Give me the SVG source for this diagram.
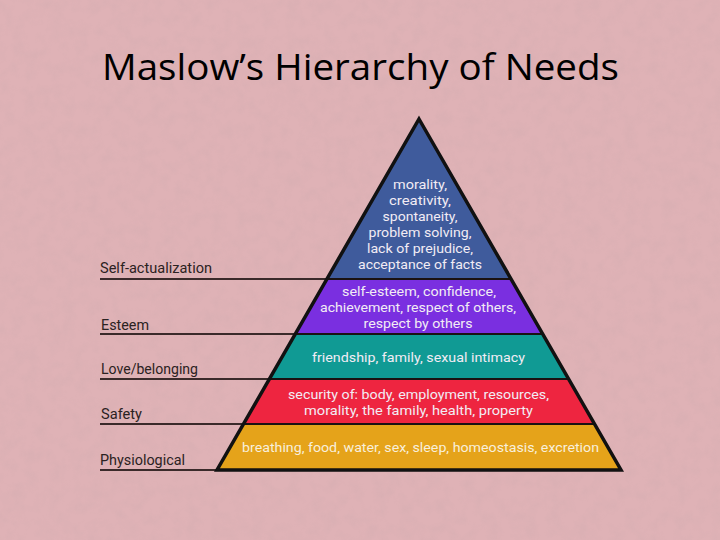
<svg xmlns="http://www.w3.org/2000/svg" width="720" height="540" viewBox="0 0 720 540">
<defs>
<style>
.title{font-family:"Open Sans","Liberation Sans",sans-serif;font-size:37px;fill:#000;}
.lbl{font-family:Roboto,"Liberation Sans",sans-serif;font-size:15.5px;fill:#2b2222;}
.in{font-family:Roboto,"Liberation Sans",sans-serif;font-size:13.5px;fill:#f2ecf4;text-anchor:middle;font-weight:400;}
.sep{stroke:#1a1212;stroke-width:2;fill:none;}
.ln{stroke:#3a2a2a;stroke-width:1.8;fill:none;}
</style>
<filter id="tex" x="0" y="0" width="100%" height="100%">
<feTurbulence type="fractalNoise" baseFrequency="0.08" numOctaves="3" seed="7"/>
<feColorMatrix type="matrix" values="0 0 0 0 0.55  0 0 0 0 0.38  0 0 0 0 0.40  0 0 0 -0.9 0.55"/>
</filter>
</defs>
<rect width="720" height="540" fill="#dfb2b6"/>
<rect width="720" height="540" filter="url(#tex)" opacity="0.4"/>
<text class="title" x="102" y="80" textLength="517" lengthAdjust="spacingAndGlyphs">Maslow’s Hierarchy of Needs</text>

<g id="connectors">
<line class="ln" x1="100" y1="279" x2="327" y2="279"/>
<line class="ln" x1="100" y1="334" x2="295" y2="334"/>
<line class="ln" x1="100" y1="379" x2="269" y2="379"/>
<line class="ln" x1="100" y1="424" x2="243" y2="424"/>
<line class="ln" x1="100" y1="470" x2="217" y2="470"/>
</g>

<g id="label-self-actualization"><text class="lbl" x="100" y="273" textLength="112" lengthAdjust="spacingAndGlyphs">Self-actualization</text></g>
<g id="label-esteem"><text class="lbl" x="101" y="330" textLength="48" lengthAdjust="spacingAndGlyphs">Esteem</text></g>
<g id="label-love"><text class="lbl" x="101" y="374" textLength="97" lengthAdjust="spacingAndGlyphs">Love/belonging</text></g>
<g id="label-safety"><text class="lbl" x="101" y="419" textLength="41" lengthAdjust="spacingAndGlyphs">Safety</text></g>
<g id="label-physiological"><text class="lbl" x="100" y="465" textLength="85" lengthAdjust="spacingAndGlyphs">Physiological</text></g>

<g id="band-self-actualization">
<polygon points="419,119 511.1,279 326.9,279" fill="#3f5b9c"/>
<text class="in" x="420" y="189" textLength="54" lengthAdjust="spacingAndGlyphs">morality,</text>
<text class="in" x="420" y="205" textLength="62" lengthAdjust="spacingAndGlyphs">creativity,</text>
<text class="in" x="420" y="221" textLength="75" lengthAdjust="spacingAndGlyphs">spontaneity,</text>
<text class="in" x="420" y="237" textLength="103" lengthAdjust="spacingAndGlyphs">problem solving,</text>
<text class="in" x="420" y="253" textLength="106" lengthAdjust="spacingAndGlyphs">lack of prejudice,</text>
<text class="in" x="420" y="269" textLength="124" lengthAdjust="spacingAndGlyphs">acceptance of facts</text>
</g>
<g id="band-esteem">
<polygon points="326.9,279 511.1,279 542.7,334 295.3,334" fill="#7a2fe0"/>
<text class="in" x="419" y="296" textLength="154" lengthAdjust="spacingAndGlyphs">self-esteem, confidence,</text>
<text class="in" x="418" y="312" textLength="196" lengthAdjust="spacingAndGlyphs">achievement, respect of others,</text>
<text class="in" x="418" y="328" textLength="109" lengthAdjust="spacingAndGlyphs">respect by others</text>
</g>
<g id="band-love">
<polygon points="295.3,334 542.7,334 568.6,379 269.4,379" fill="#109a94"/>
<text class="in" x="418.5" y="362" textLength="213" lengthAdjust="spacingAndGlyphs">friendship, family, sexual intimacy</text>
</g>
<g id="band-safety">
<polygon points="269.4,379 568.6,379 594.5,424 243.5,424" fill="#ee2540"/>
<text class="in" x="418.5" y="399" textLength="261" lengthAdjust="spacingAndGlyphs">security of: body, employment, resources,</text>
<text class="in" x="418.5" y="415" textLength="229" lengthAdjust="spacingAndGlyphs">morality, the family, health, property</text>
</g>
<g id="band-physiological">
<polygon points="243.5,424 594.5,424 621,470 217,470" fill="#e5a31a"/>
<text class="in" x="420.5" y="452" textLength="357" lengthAdjust="spacingAndGlyphs" style="fill:#f8efdc">breathing, food, water, sex, sleep, homeostasis, excretion</text>
</g>

<g id="outline">
<line class="sep" x1="326.9" y1="279" x2="511.1" y2="279"/>
<line class="sep" x1="295.3" y1="334" x2="542.7" y2="334"/>
<line class="sep" x1="269.4" y1="379" x2="568.6" y2="379"/>
<line class="sep" x1="243.5" y1="424" x2="594.5" y2="424"/>
<polygon points="419,119 621,470 217,470" fill="none" stroke="#111" stroke-width="3.5" stroke-linejoin="miter"/>
</g>
</svg>
